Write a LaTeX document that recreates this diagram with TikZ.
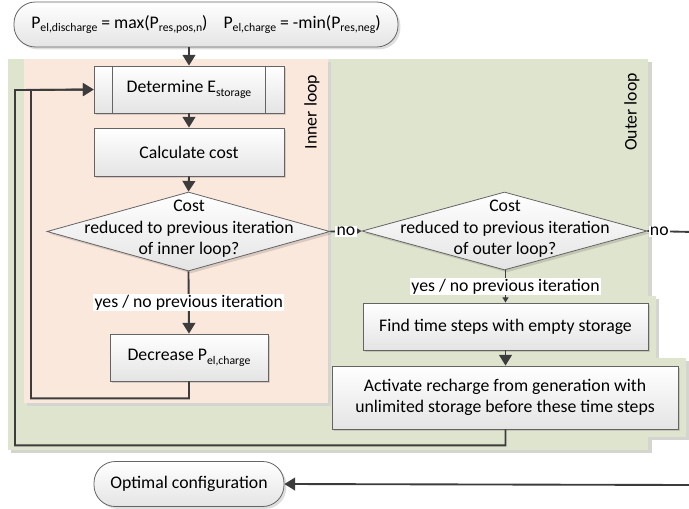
\documentclass[tikz,border=0pt]{standalone}
\usepackage{fontspec}
\setmainfont{Carlito}
\usetikzlibrary{shapes.geometric,arrows.meta,backgrounds,shadows}

\definecolor{outerfill}{RGB}{223,228,206}
\definecolor{innerfill}{RGB}{251,232,221}
\definecolor{panelshade}{RGB}{212,212,208}
\definecolor{linecol}{RGB}{60,60,60}
\definecolor{bordercol}{RGB}{100,100,100}
\definecolor{boxbottom}{RGB}{228,228,228}

% one pixel of the layout grid
\newcommand\pxu{0.75pt}
% small lowered index text
\newcommand\lowidx[1]{\raisebox{-0.45ex}{\fontsize{8.8}{9}\selectfont #1}}

\begin{document}
\begin{tikzpicture}[x=0.75pt,y=-0.75pt,
  base/.style={font=\fontsize{13.3}{16}\selectfont, align=center, text=black},
  boxshadow/.style={drop shadow={shadow xshift=1.8pt, shadow yshift=-1.8pt, fill=black, opacity=0.13}},
  procbox/.style={base, draw=bordercol, line width=0.6pt, top color=white, bottom color=boxbottom,
    inner sep=0pt, boxshadow},
  terminal/.style={procbox, rounded corners=16pt},
  decision/.style={shape=diamond, draw=bordercol, line width=0.6pt, top color=white, bottom color=boxbottom,
    inner sep=0pt, boxshadow},
  conn/.style={draw=linecol, line width=1.4pt, -{Triangle[length=8pt,width=9.5pt]}},
  smallconn/.style={draw=linecol, line width=1.4pt, -{Triangle[length=4pt,width=4.5pt]}},
  lbl/.style={base, fill=white, inner sep=1pt},
  sidelbl/.style={base, rotate=90},
]
\useasboundingbox (0,0) rectangle (689,508);

% ---------- flow steps ----------
\node[terminal, minimum width=384*\pxu, minimum height=45*\pxu] (start) at (206,24.5)
  {P\lowidx{el,discharge} = max(P\lowidx{res,pos,n})\hspace{0.9em}P\lowidx{el,charge} = -min(P\lowidx{res,neg})};

\node[procbox, minimum width=190*\pxu, minimum height=47*\pxu] (det) at (189,89.5)
  {Determine E\lowidx{storage}};
\draw[draw=bordercol, line width=0.6pt]
  ([xshift=19*\pxu]det.north west) -- ([xshift=19*\pxu]det.south west)
  ([xshift=-19*\pxu]det.north east) -- ([xshift=-19*\pxu]det.south east);

\node[procbox, minimum width=190*\pxu, minimum height=48*\pxu] (calc) at (189,152)
  {Calculate cost};

\node[decision, minimum width=283*\pxu, minimum height=79*\pxu] (d1) at (188.5,231.5) {};
\node[base] (d1t) at (189,229) {Cost\\reduced to previous iteration\\of inner loop?};

\node[decision, minimum width=285*\pxu, minimum height=78*\pxu] (d2) at (504.5,231) {};
\node[base] (d2t) at (505,229) {Cost\\reduced to previous iteration\\of outer loop?};

\node[procbox, minimum width=158*\pxu, minimum height=47*\pxu] (dec) at (189,357.5)
  {Decrease P\lowidx{el,charge}};

\node[procbox, minimum width=285*\pxu, minimum height=47*\pxu] (find) at (505.5,326.5)
  {Find time steps with empty storage};

\node[procbox, minimum width=346*\pxu, minimum height=63*\pxu] (act) at (505,397.5)
  {Activate recharge from generation with\\unlimited storage before these time steps};

\node[terminal, minimum width=190*\pxu, minimum height=45*\pxu] (opt) at (189,484)
  {Optimal configuration};

\node[sidelbl] (innerlbl) at (312,112) {Inner loop};
\node[sidelbl] (outerlbl) at (632,112) {Outer loop};

% ---------- loop containers ----------
\begin{scope}[on background layer]
  \fill[panelshade] (11,62) rectangle (652,453);
  \fill[panelshade] (343,299) rectangle (659,361);
  \fill[panelshade] (328,361) rectangle (689,440);
  \fill[outerfill] (8,59) rectangle (648,450);
  \fill[outerfill] (340,296) rectangle (656,358);
  \fill[outerfill] (325,358) rectangle (686,437);
  \fill[panelshade] (27,62) rectangle (331,406);
  \fill[innerfill] (24,59) rectangle (328,403);
\end{scope}

% ---------- connectors ----------
\coordinate (outerjoin) at (15,90);
\coordinate (innerjoin) at (31,90);
\coordinate (exitA) at (694,232);
\coordinate (exitB) at (694,485);

\draw[conn] (start.south -| det.north) -- (det.north);
\draw[conn] (det.south) -- (calc.north);
\draw[conn] (calc.south) -- (d1.north);
\draw[conn] (d1.south) -- node[lbl]{yes / no previous iteration} (dec.north);
\draw[smallconn] (d1.east) -- node[lbl]{no} (d2.west);
\draw[smallconn] (d2.south -| find.north) -- node[lbl]{yes / no previous iteration} (find.north);
\draw[conn] (find.south) -- (find.south |- act.north);
\draw[conn] (dec.south) -- ++(0,17) -| (innerjoin) -- (det.west);
\draw[conn] (act.south -| find.south) -- ++(0,16) -| (outerjoin) -- (det.west);
\draw[conn] (d2.east) -- node[lbl,pos=0.255]{no} (exitA) -- (exitB) -- (opt.east);
\end{tikzpicture}
\end{document}
